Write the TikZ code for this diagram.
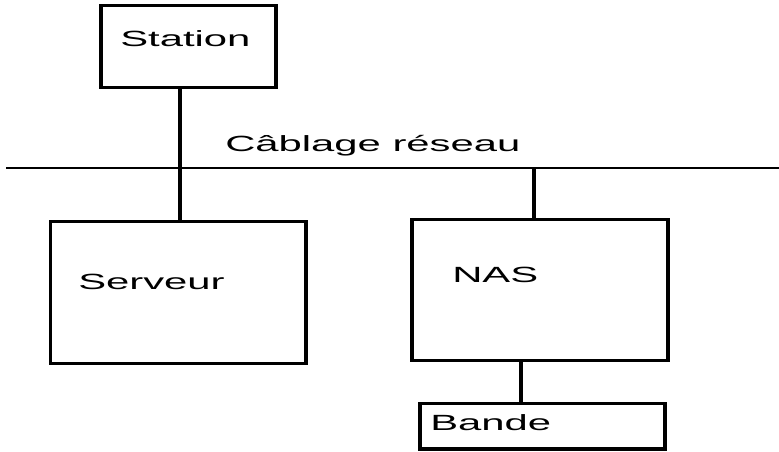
\documentclass[tikz,border=0pt]{standalone}
\usepackage{fontspec}
\newfontfamily\pixfont[FakeStretch=1.9]{Liberation Sans}
\usepackage{tikz}

\tikzset{
  box/.style={draw,rectangle,line width=2.6pt,inner sep=0pt},
  lbl/.style={anchor=base west,inner sep=0pt,font=\pixfont\fontsize{16.5}{18}\selectfont},
  wire/.style={line width=3pt},
  bus/.style={line width=1.6pt}
}

\begin{document}
\begin{tikzpicture}[x=0.75pt,y=-0.75pt]

% Parameters
\def\px{0.75pt}   % one pixel of the original
\def\busY{168}    % height of the network line

\useasboundingbox (0,0) rectangle (779,451);

% Boxes
\node[box,minimum width=175*\px,minimum height=82*\px] (station) at (188.5,46.5) {};
\node[box,minimum width=255.5*\px,minimum height=142*\px] (serveur) at (178.25,292.5) {};
\node[box,minimum width=256*\px,minimum height=141*\px] (nas) at (540,290) {};
\node[box,minimum width=245*\px,minimum height=45.5*\px] (bande) at (542.5,426.25) {};

% Labels
\node[lbl] (tStation) at (120,46) {Station};
\node[lbl] (tReseau) at (225,151) {Câblage réseau};
\node[lbl] (tServeur) at (78,289) {Serveur};
\node[lbl] (tNas) at (452,282) {NAS};
\node[lbl] (tBande) at (430,430) {Bande};

% Network line
\coordinate (busL) at (6,\busY);
\coordinate (busR) at (779,\busY);
\draw[bus] (busL) -- (busR);

% Taps
\coordinate (tapS) at (180,\busY);
\coordinate (tapN) at (534,\busY);
\coordinate (tapB) at (521,400);
\draw[wire] (tapS |- station.south) -- (tapS |- serveur.north);
\draw[wire] (tapN) -- (tapN |- nas.north);
\draw[wire] (tapB |- nas.south) -- (tapB |- bande.north);

\end{tikzpicture}
\end{document}
